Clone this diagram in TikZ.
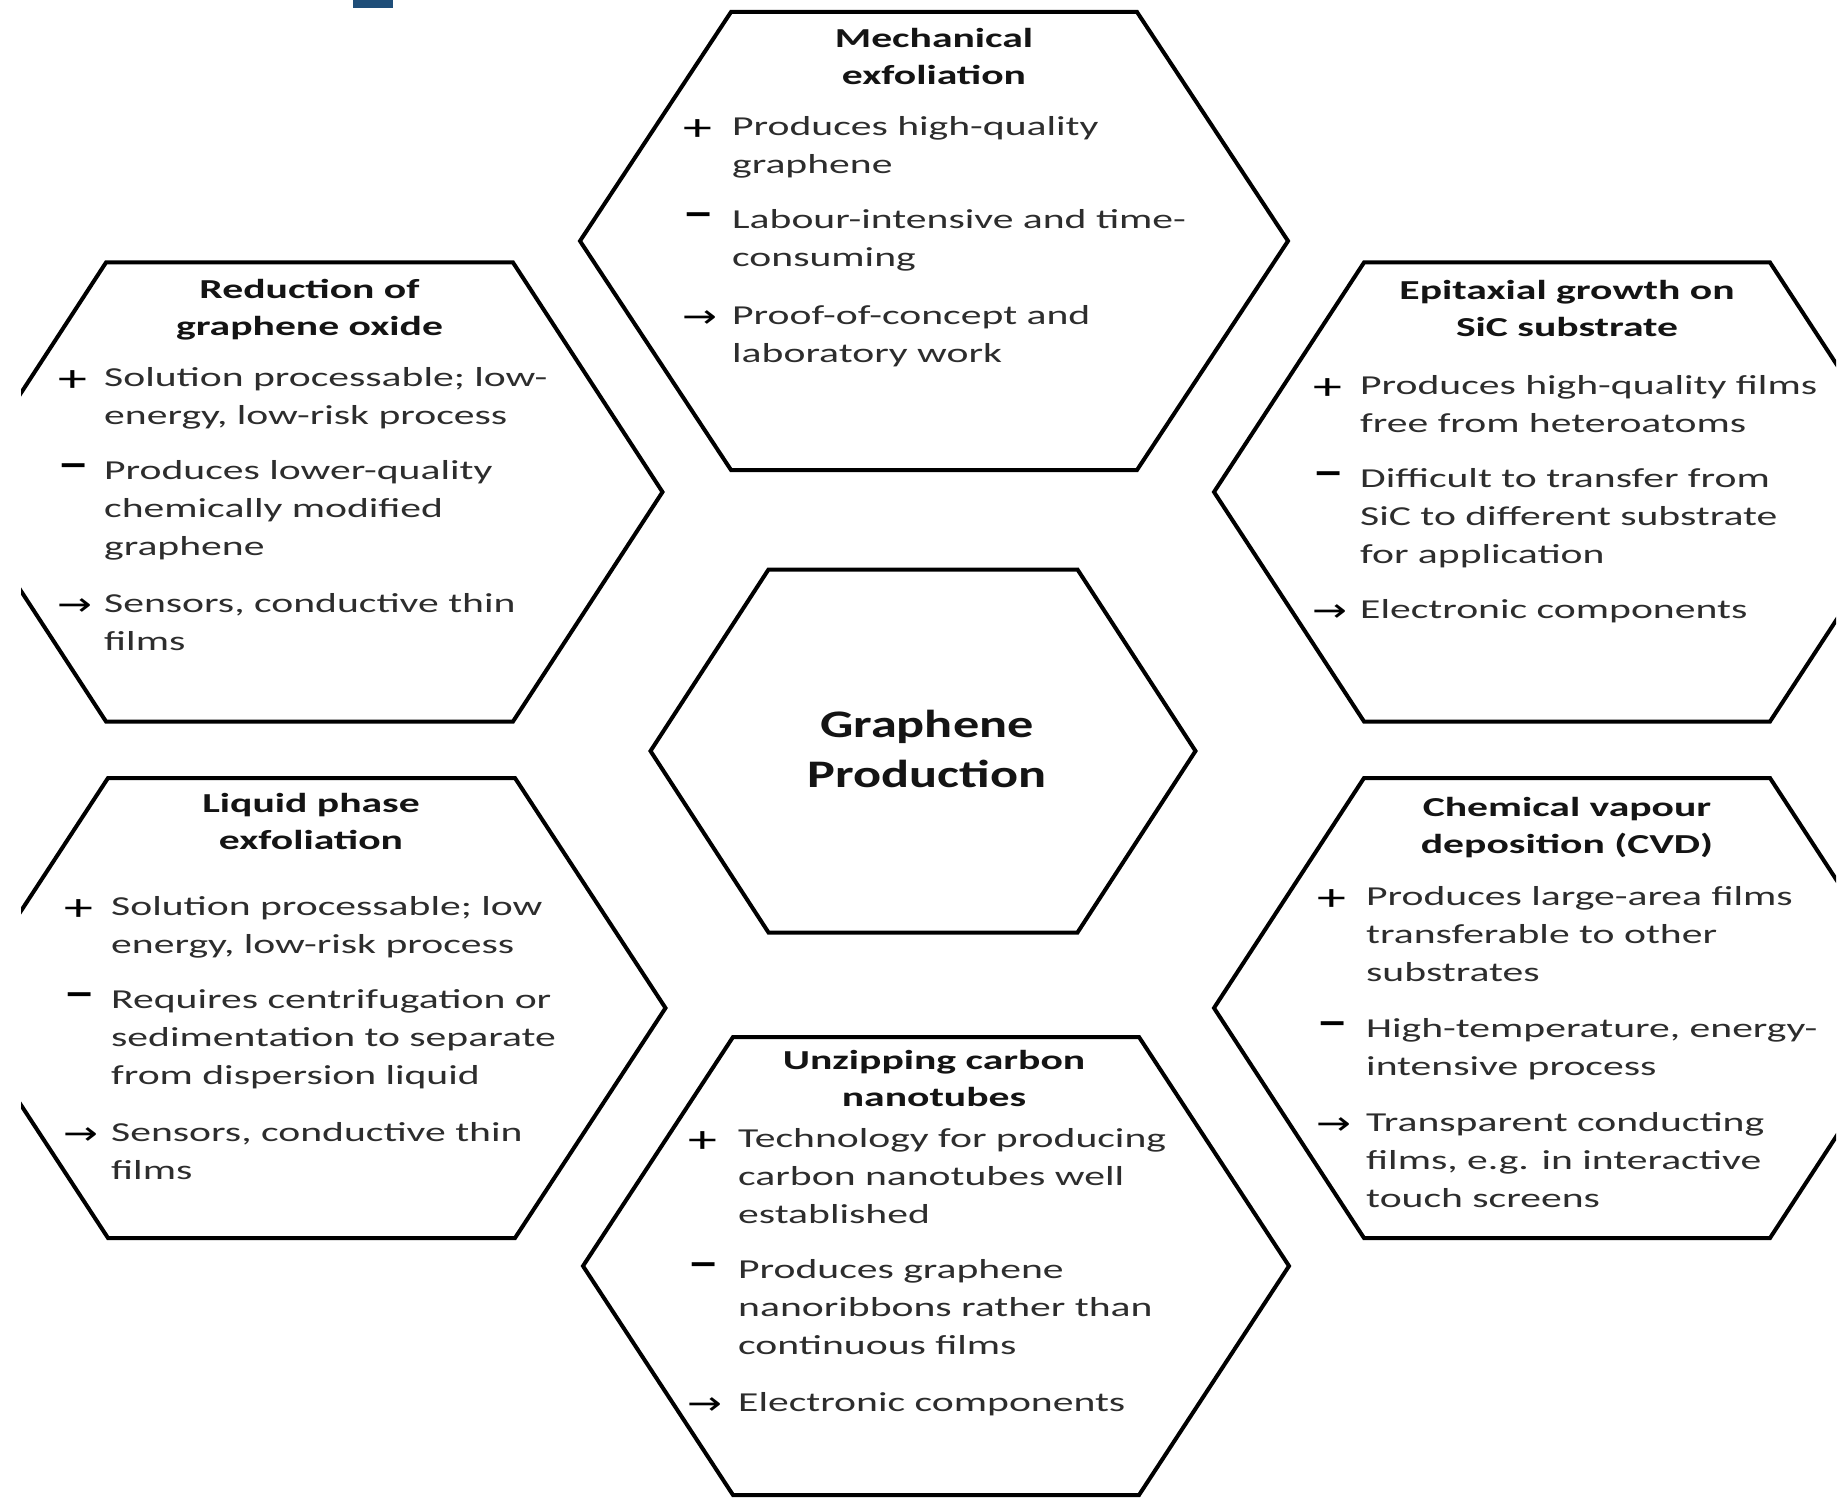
\documentclass[tikz,border=0pt]{standalone}
\usepackage{graphicx}
\usepackage{fontspec}
\setmainfont{Carlito}[FakeStretch=1.52]
\newfontfamily\ctrfont{Carlito}[FakeStretch=1.34]
\newfontfamily\arwfont{DejaVu Sans}[FakeStretch=1.3]
\definecolor{topblue}{RGB}{31,78,121}
\definecolor{bodygray}{RGB}{45,45,45}
\tikzset{
  hexline/.style={line width=4pt, line join=miter, draw=black},
  body/.style={anchor=north west, inner sep=0pt, align=left, text=bodygray,
    font=\fontsize{27.4pt}{38.3pt}\selectfont},
  symb/.style={anchor=north west, inner sep=0pt, text=black,
    font=\fontsize{27.4pt}{38.3pt}\selectfont},
  head/.style={anchor=north, inner sep=0pt, align=center, text=black!92,
    font=\fontsize{27.4pt}{37.5pt}\selectfont\bfseries},
  ctr/.style={anchor=north, inner sep=0pt, align=center, text=black!92,
    font=\ctrfont\bfseries\fontsize{39pt}{49.5pt}\selectfont},
}
\newcommand\plussym{\raisebox{-5pt}{\fontsize{38pt}{38pt}\selectfont +}}
\newcommand\minussym{\raisebox{3pt}{\scalebox{1.6}[1]{\fontsize{38pt}{38pt}\selectfont\bfseries -}}}
\newcommand\arrsym{\raisebox{-3pt}{\arwfont\fontsize{32pt}{32pt}\selectfont →}}
% name, symbol, symbol x, text x, top y, text
\newcommand\pitem[6]{%
  \node[symb] (#1s) at (#3,#5) {\strut#2};
  \node[body] (#1) at (#4,#5) {\strut#6};}
% cx, cy, half width, half top edge, half height
\newcommand\hexpath[5]{%
  \draw[hexline] (#1-#3,#2) -- (#1-#4,#2-#5) -- (#1+#4,#2-#5) -- (#1+#3,#2)
    -- (#1+#4,#2+#5) -- (#1-#4,#2+#5) -- cycle;}
\begin{document}
\begin{tikzpicture}[x=1pt,y=-1pt]
\fill[white] (0,0) rectangle (1848,1498);
\useasboundingbox (0,0) rectangle (1848,1498);
\fill[topblue] (353,0) rectangle (393,8);

\begin{scope}
\clip (21,0) rectangle (1836,1498);
\hexpath{934}{241}{354}{203}{229}
\hexpath{309.5}{492}{353}{203.5}{229.5}
\hexpath{1567}{492}{353}{203}{229.5}
\hexpath{923}{751}{272.5}{154.5}{181.5}
\hexpath{311.5}{1008}{354}{203.5}{230}
\hexpath{1567}{1008}{353}{203}{230}
\hexpath{936}{1266}{353}{203}{229}
\end{scope}

\begin{scope}[yshift=-3pt]
% Mechanical exfoliation
\node[head] (mechh) at (934,18) {\strut Mechanical\\exfoliation};
\pitem{mechp}{\plussym}{683}{732}{105}{Produces high-quality\\graphene}
\pitem{mechm}{\minussym}{684}{732}{198}{Labour-intensive and time-\\consuming}
\pitem{mecha}{\arrsym}{682}{732}{294}{Proof-of-concept and\\laboratory work}

% Reduction of graphene oxide
\node[head] (redh) at (309.5,269) {\strut Reduction of\\graphene oxide};
\pitem{redp}{\plussym}{58}{104}{356}{Solution processable; low-\\energy, low-risk process}
\pitem{redm}{\minussym}{59}{104}{449}{Produces lower-quality\\chemically modified\\graphene}
\pitem{reda}{\arrsym}{57}{104}{582}{Sensors, conductive thin\\films}

% Epitaxial growth
\node[head] (epih) at (1567,270) {\strut Epitaxial growth on\\SiC substrate};
\pitem{epip}{\plussym}{1313}{1360}{364}{Produces high-quality films\\free from heteroatoms}
\pitem{epim}{\minussym}{1314}{1360}{457}{Difficult to transfer from\\SiC to different substrate\\for application}
\pitem{epia}{\arrsym}{1312}{1360}{588}{Electronic components}

% Centre
\node[ctr] (centre) at (927,700) {\strut Graphene\\Production};

% Liquid phase exfoliation
\node[head] (liqh) at (311,783) {\strut Liquid phase\\exfoliation};
\pitem{liqp}{\plussym}{64}{111}{885}{Solution processable; low\\energy, low-risk process}
\pitem{liqm}{\minussym}{65}{111}{978}{Requires centrifugation or\\sedimentation to separate\\from dispersion liquid}
\pitem{liqa}{\arrsym}{63}{111}{1111}{Sensors, conductive thin\\films}

% CVD
\node[head] (cvdh) at (1567,787) {\strut Chemical vapour\\deposition (CVD)};
\pitem{cvdp}{\plussym}{1317}{1366}{875}{Produces large-area films\\transferable to other\\substrates}
\pitem{cvdm}{\minussym}{1318}{1366}{1007}{High-temperature, energy-\\intensive process}
\pitem{cvda}{\arrsym}{1316}{1366}{1101}{Transparent conducting\\films, e.g. in interactive\\touch screens}

% Unzipping carbon nanotubes
\node[head] (unzh) at (934,1040) {\strut Unzipping carbon\\nanotubes};
\pitem{unzp}{\plussym}{688}{738}{1117}{Technology for producing\\carbon nanotubes well\\established}
\pitem{unzm}{\minussym}{689}{738}{1248}{Produces graphene\\nanoribbons rather than\\continuous films}
\pitem{unza}{\arrsym}{687}{738}{1381}{Electronic components}
\end{scope}
\end{tikzpicture}
\end{document}
